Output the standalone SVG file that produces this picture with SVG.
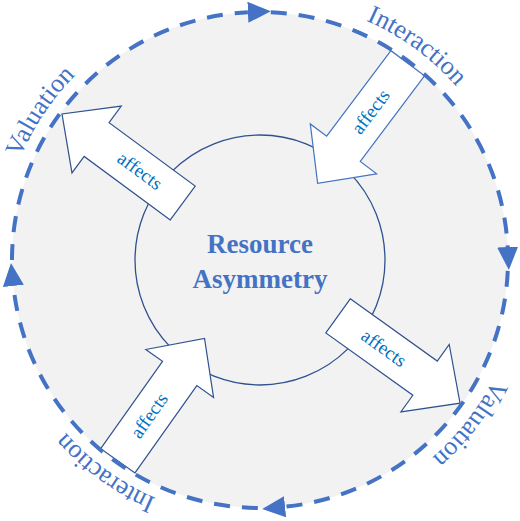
<svg xmlns="http://www.w3.org/2000/svg" width="520" height="521" viewBox="0 0 520 521">
  <style>
    .bg { fill: #f2f2f2; stroke: none; }
    .core { fill: none; stroke: #2f528f; stroke-width: 1.3; }
    .core-text { font-family: "Liberation Serif", "Times New Roman", serif; font-weight: bold; font-size: 27px; fill: #4472c4; text-anchor: middle; }
    .blk { fill: #ffffff; stroke: #2f528f; stroke-width: 1.2; stroke-linejoin: miter; }
    .blk-light { stroke: #4472c4; }
    .aff { font-family: "Liberation Serif", "Times New Roman", serif; font-size: 19px; fill: #0070c0; text-anchor: middle; }
    .cycle { fill: none; stroke: #4472c4; stroke-width: 4; stroke-dasharray: 16 12; marker-end: url(#head); }
    .arc-label { font-family: "Liberation Serif", "Times New Roman", serif; font-size: 26px; fill: #4472c4; text-anchor: middle; }
  </style>
  <defs>
    <marker id="head" markerUnits="userSpaceOnUse" viewBox="0 0 23 21" markerWidth="23" markerHeight="21" refX="0" refY="10.5" orient="auto">
      <path d="M0,0 L23,10.5 L0,21 Z" fill="#4472c4"/>
    </marker>
    <path id="lp1" d="M288.30,-0.47 A262,262 0 0 1 499.72,154.27"/>
    <path id="lp2" d="M0.64,241.72 A262,262 0 0 1 145.15,24.52"/>
    <path id="lp3" d="M519.45,296.46 A262,262 0 0 1 358.15,502.92"/>
    <path id="lp4" d="M232.82,518.58 A260,260 0 0 1 22.48,365.75"/>
  </defs>

  <circle class="bg" cx="260" cy="260" r="248"/>

  <g id="resource-asymmetry">
    <circle class="core" cx="260" cy="260" r="125"/>
    <text class="core-text" x="260" y="253">Resource</text>
    <text class="core-text" x="260" y="288">Asymmetry</text>
  </g>

  <g id="arrow-valuation-out">
    <g transform="translate(260 260) rotate(216.4)">
      <polygon class="blk" points="96,-21 203,-21 203,-41.5 246,0 203,41.5 203,21 96,21"/>
      <text class="aff" transform="translate(149.5 0) rotate(180)" dy="0.3em">affects</text>
    </g>
  </g>

  <g id="arrow-interaction-in">
    <g transform="translate(260 260) rotate(-53.1)">
      <polygon class="blk blk-light" points="246,-21 139,-21 139,-41.5 96,0 139,41.5 139,21 246,21"/>
      <text class="aff" transform="translate(185 0)" dy="0.3em">affects</text>
    </g>
  </g>

  <g id="arrow-valuation-out-2">
    <g transform="translate(260 260) rotate(35.6)">
      <polygon class="blk" points="96,-21 203,-21 203,-41.5 246,0 203,41.5 203,21 96,21"/>
      <text class="aff" transform="translate(152 0)" dy="0.3em">affects</text>
    </g>
  </g>

  <g id="arrow-interaction-in-2">
    <g transform="translate(260 260) rotate(125.3)">
      <polygon class="blk" points="246,-21 139,-21 139,-41.5 96,0 139,41.5 139,21 246,21"/>
      <text class="aff" transform="translate(191 0) rotate(180)" dy="0.3em">affects</text>
    </g>
  </g>

  <g id="connectors">
    <path class="cycle" d="M12,260 A248,248 0 0 1 247.89,12.30"/>
    <path class="cycle" d="M270.82,12.24 A248,248 0 0 1 507.66,247.02"/>
    <path class="cycle" d="M507.76,270.82 A248,248 0 0 1 285.06,506.73"/>
    <path class="cycle" d="M257.84,508 A248,248 0 0 1 13.36,285.92"/>
    <text class="arc-label"><textPath href="#lp1" startOffset="50%">Interaction</textPath></text>
    <text class="arc-label"><textPath href="#lp2" startOffset="50%">Valuation</textPath></text>
    <text class="arc-label"><textPath href="#lp3" startOffset="50%">Valuation</textPath></text>
    <text class="arc-label"><textPath href="#lp4" startOffset="50%">Interaction</textPath></text>
  </g>
</svg>
